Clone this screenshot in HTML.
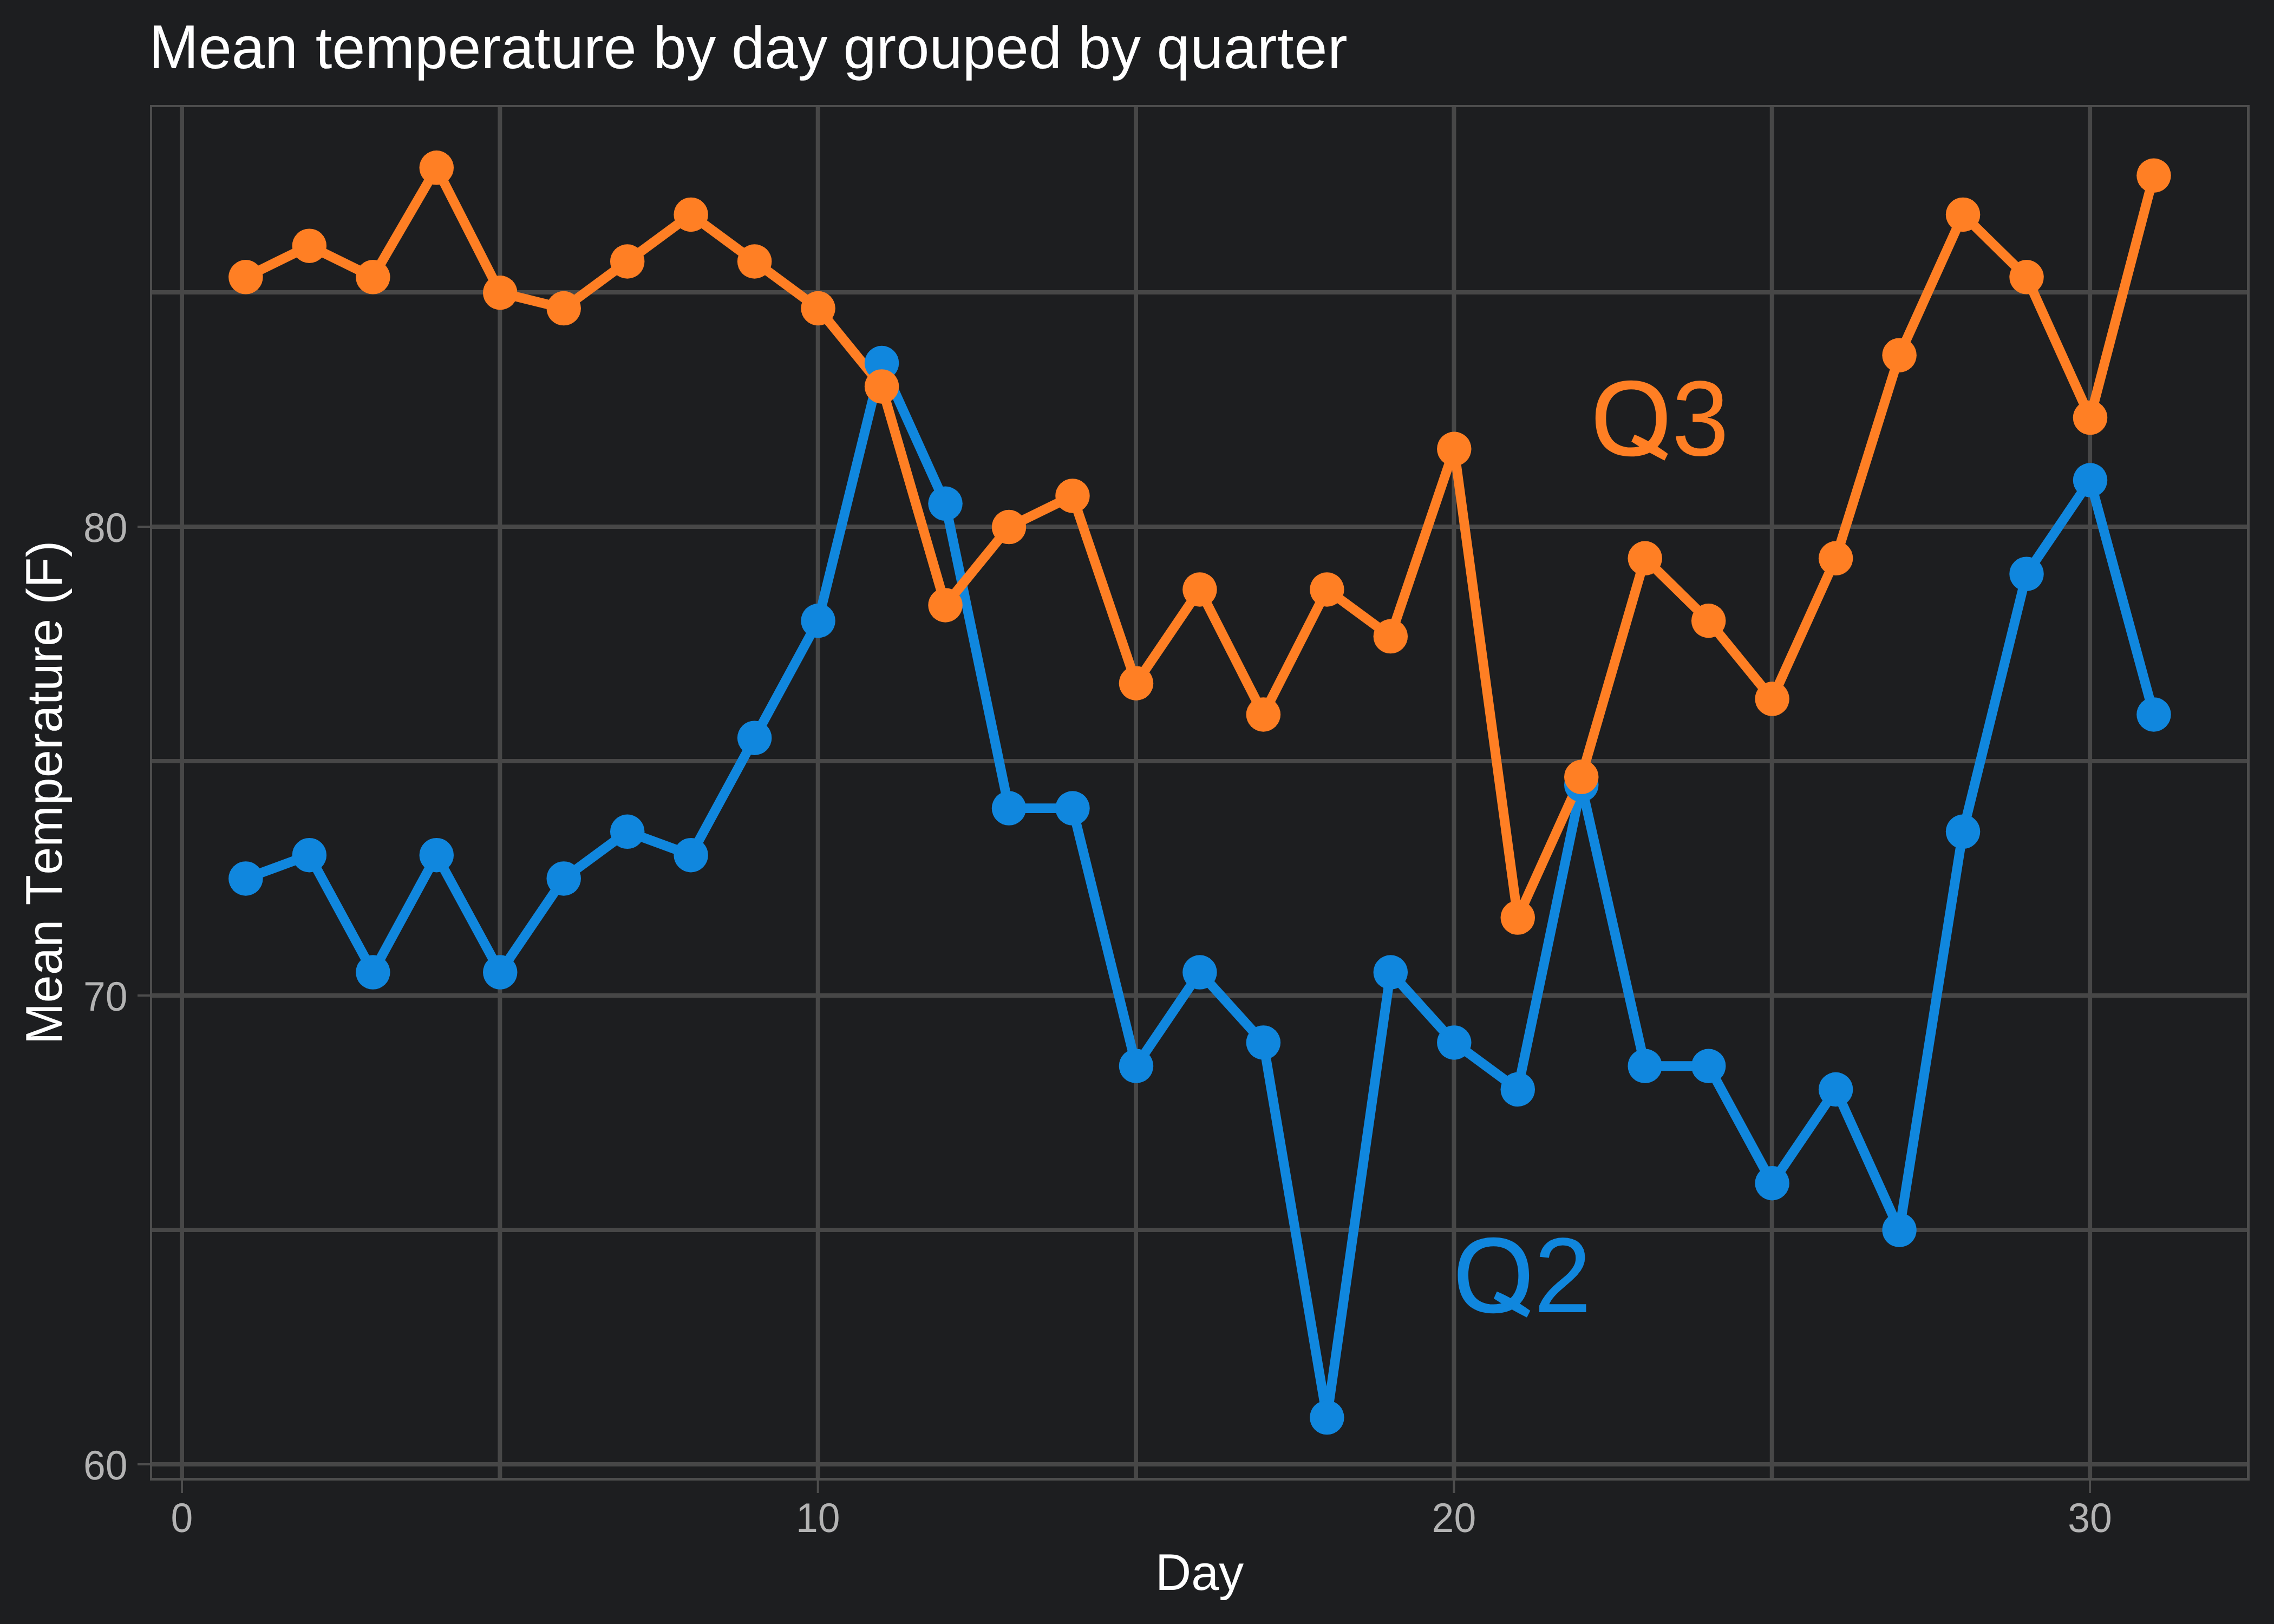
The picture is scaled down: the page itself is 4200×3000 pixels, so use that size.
<!DOCTYPE html>
<html><head><meta charset="utf-8"><title>Mean temperature by day grouped by quarter</title>
<style>
html,body{margin:0;padding:0;background:#1d1e20;}
body{width:4200px;height:3000px;overflow:hidden;}
svg{display:block;}
text{font-family:"Liberation Sans",sans-serif;font-kerning:none;text-rendering:geometricPrecision;}
</style></head><body>
<svg width="4200" height="3000" viewBox="0 0 4200 3000">
<rect x="0" y="0" width="4200" height="3000" fill="#1d1e20"/>
<defs><clipPath id="pc"><rect x="277" y="194" width="3878" height="2541"/></clipPath></defs>
<g clip-path="url(#pc)">

<line x1="277" x2="4155" y1="2705.00" y2="2705.00" stroke="#474747" stroke-width="8"/>
<line x1="277" x2="4155" y1="2272.00" y2="2272.00" stroke="#474747" stroke-width="8"/>
<line x1="277" x2="4155" y1="1839.00" y2="1839.00" stroke="#474747" stroke-width="8"/>
<line x1="277" x2="4155" y1="1406.00" y2="1406.00" stroke="#474747" stroke-width="8"/>
<line x1="277" x2="4155" y1="973.00" y2="973.00" stroke="#474747" stroke-width="8"/>
<line x1="277" x2="4155" y1="540.00" y2="540.00" stroke="#474747" stroke-width="8"/>
<line y1="194" y2="2735" x1="336.00" x2="336.00" stroke="#474747" stroke-width="8"/>
<line y1="194" y2="2735" x1="923.35" x2="923.35" stroke="#474747" stroke-width="8"/>
<line y1="194" y2="2735" x1="1510.70" x2="1510.70" stroke="#474747" stroke-width="8"/>
<line y1="194" y2="2735" x1="2098.05" x2="2098.05" stroke="#474747" stroke-width="8"/>
<line y1="194" y2="2735" x1="2685.40" x2="2685.40" stroke="#474747" stroke-width="8"/>
<line y1="194" y2="2735" x1="3272.75" x2="3272.75" stroke="#474747" stroke-width="8"/>
<line y1="194" y2="2735" x1="3860.10" x2="3860.10" stroke="#474747" stroke-width="8"/>
<path d="M453.87,1622.93 L571.34,1579.64 L688.81,1796.08 L806.28,1579.64 L923.75,1796.08 L1041.22,1622.93 L1158.69,1536.35 L1276.16,1579.64 L1393.63,1363.20 L1511.10,1146.76 L1628.57,670.59 L1746.04,930.32 L1863.51,1493.07 L1980.98,1493.07 L2098.45,1969.23 L2215.92,1796.08 L2333.39,1925.95 L2450.86,2618.55 L2568.33,1796.08 L2685.80,1925.95 L2803.27,2012.52 L2920.74,1449.78 L3038.21,1969.23 L3155.68,1969.23 L3273.15,2185.67 L3390.62,2012.52 L3508.09,2272.25 L3625.56,1536.35 L3743.03,1060.19 L3860.50,887.03 L3977.97,1319.91" fill="none" stroke="#1087de" stroke-width="17.8" stroke-linejoin="round" stroke-linecap="butt"/>
<path d="M453.87,511.87 L571.34,454.15 L688.81,511.87 L806.28,309.86 L923.75,540.73 L1041.22,569.59 L1158.69,483.01 L1276.16,396.44 L1393.63,483.01 L1511.10,569.59 L1628.57,713.88 L1746.04,1117.90 L1863.51,973.61 L1980.98,915.89 L2098.45,1262.20 L2215.92,1089.04 L2333.39,1319.91 L2450.86,1089.04 L2568.33,1175.62 L2685.80,829.32 L2803.27,1695.08 L2920.74,1435.35 L3038.21,1031.33 L3155.68,1146.76 L3273.15,1291.06 L3390.62,1031.33 L3508.09,656.16 L3625.56,396.44 L3743.03,511.87 L3860.50,771.60 L3977.97,324.29" fill="none" stroke="#ff7f24" stroke-width="17.8" stroke-linejoin="round" stroke-linecap="butt"/>
<circle cx="453.87" cy="1622.93" r="31.75" fill="#1087de"/>
<circle cx="571.34" cy="1579.64" r="31.75" fill="#1087de"/>
<circle cx="688.81" cy="1796.08" r="31.75" fill="#1087de"/>
<circle cx="806.28" cy="1579.64" r="31.75" fill="#1087de"/>
<circle cx="923.75" cy="1796.08" r="31.75" fill="#1087de"/>
<circle cx="1041.22" cy="1622.93" r="31.75" fill="#1087de"/>
<circle cx="1158.69" cy="1536.35" r="31.75" fill="#1087de"/>
<circle cx="1276.16" cy="1579.64" r="31.75" fill="#1087de"/>
<circle cx="1393.63" cy="1363.20" r="31.75" fill="#1087de"/>
<circle cx="1511.10" cy="1146.76" r="31.75" fill="#1087de"/>
<circle cx="1628.57" cy="670.59" r="31.75" fill="#1087de"/>
<circle cx="1746.04" cy="930.32" r="31.75" fill="#1087de"/>
<circle cx="1863.51" cy="1493.07" r="31.75" fill="#1087de"/>
<circle cx="1980.98" cy="1493.07" r="31.75" fill="#1087de"/>
<circle cx="2098.45" cy="1969.23" r="31.75" fill="#1087de"/>
<circle cx="2215.92" cy="1796.08" r="31.75" fill="#1087de"/>
<circle cx="2333.39" cy="1925.95" r="31.75" fill="#1087de"/>
<circle cx="2450.86" cy="2618.55" r="31.75" fill="#1087de"/>
<circle cx="2568.33" cy="1796.08" r="31.75" fill="#1087de"/>
<circle cx="2685.80" cy="1925.95" r="31.75" fill="#1087de"/>
<circle cx="2803.27" cy="2012.52" r="31.75" fill="#1087de"/>
<circle cx="2920.74" cy="1449.78" r="31.75" fill="#1087de"/>
<circle cx="3038.21" cy="1969.23" r="31.75" fill="#1087de"/>
<circle cx="3155.68" cy="1969.23" r="31.75" fill="#1087de"/>
<circle cx="3273.15" cy="2185.67" r="31.75" fill="#1087de"/>
<circle cx="3390.62" cy="2012.52" r="31.75" fill="#1087de"/>
<circle cx="3508.09" cy="2272.25" r="31.75" fill="#1087de"/>
<circle cx="3625.56" cy="1536.35" r="31.75" fill="#1087de"/>
<circle cx="3743.03" cy="1060.19" r="31.75" fill="#1087de"/>
<circle cx="3860.50" cy="887.03" r="31.75" fill="#1087de"/>
<circle cx="3977.97" cy="1319.91" r="31.75" fill="#1087de"/>
<circle cx="453.87" cy="511.87" r="31.75" fill="#ff7f24"/>
<circle cx="571.34" cy="454.15" r="31.75" fill="#ff7f24"/>
<circle cx="688.81" cy="511.87" r="31.75" fill="#ff7f24"/>
<circle cx="806.28" cy="309.86" r="31.75" fill="#ff7f24"/>
<circle cx="923.75" cy="540.73" r="31.75" fill="#ff7f24"/>
<circle cx="1041.22" cy="569.59" r="31.75" fill="#ff7f24"/>
<circle cx="1158.69" cy="483.01" r="31.75" fill="#ff7f24"/>
<circle cx="1276.16" cy="396.44" r="31.75" fill="#ff7f24"/>
<circle cx="1393.63" cy="483.01" r="31.75" fill="#ff7f24"/>
<circle cx="1511.10" cy="569.59" r="31.75" fill="#ff7f24"/>
<circle cx="1628.57" cy="713.88" r="31.75" fill="#ff7f24"/>
<circle cx="1746.04" cy="1117.90" r="31.75" fill="#ff7f24"/>
<circle cx="1863.51" cy="973.61" r="31.75" fill="#ff7f24"/>
<circle cx="1980.98" cy="915.89" r="31.75" fill="#ff7f24"/>
<circle cx="2098.45" cy="1262.20" r="31.75" fill="#ff7f24"/>
<circle cx="2215.92" cy="1089.04" r="31.75" fill="#ff7f24"/>
<circle cx="2333.39" cy="1319.91" r="31.75" fill="#ff7f24"/>
<circle cx="2450.86" cy="1089.04" r="31.75" fill="#ff7f24"/>
<circle cx="2568.33" cy="1175.62" r="31.75" fill="#ff7f24"/>
<circle cx="2685.80" cy="829.32" r="31.75" fill="#ff7f24"/>
<circle cx="2803.27" cy="1695.08" r="31.75" fill="#ff7f24"/>
<circle cx="2920.74" cy="1435.35" r="31.75" fill="#ff7f24"/>
<circle cx="3038.21" cy="1031.33" r="31.75" fill="#ff7f24"/>
<circle cx="3155.68" cy="1146.76" r="31.75" fill="#ff7f24"/>
<circle cx="3273.15" cy="1291.06" r="31.75" fill="#ff7f24"/>
<circle cx="3390.62" cy="1031.33" r="31.75" fill="#ff7f24"/>
<circle cx="3508.09" cy="656.16" r="31.75" fill="#ff7f24"/>
<circle cx="3625.56" cy="396.44" r="31.75" fill="#ff7f24"/>
<circle cx="3743.03" cy="511.87" r="31.75" fill="#ff7f24"/>
<circle cx="3860.50" cy="771.60" r="31.75" fill="#ff7f24"/>
<circle cx="3977.97" cy="324.29" r="31.75" fill="#ff7f24"/>
<g transform="translate(2938.6,841) scale(1.0)" fill="#ff7f24"><path fill-rule="evenodd" d="M139.80,-68.00 C139.80,-113.63 116.77,-138.20 74.00,-138.20 C31.23,-138.20 8.20,-113.63 8.20,-68.00 C8.20,-22.37 31.23,2.20 74.00,2.20 C116.77,2.20 139.80,-22.37 139.80,-68.00 Z M120.10,-68.10 C120.10,-102.40 103.47,-121.70 73.90,-121.70 C44.33,-121.70 27.70,-102.40 27.70,-68.10 C27.70,-33.80 44.33,-14.50 73.90,-14.50 C103.47,-14.50 120.10,-33.80 120.10,-68.10 Z "/><path d="M80.4,-38.3 Q108,-27 142,-2.8 L135.8,9.7 Q104,-6 74.6,-25.3 Z"/></g><text transform="translate(3087.80,841) scale(1,1.04)" x="0" y="0" font-size="189.7" fill="#ff7f24">3</text>
<g transform="translate(2684.3,2424) scale(1.0)" fill="#1087de"><path fill-rule="evenodd" d="M139.80,-68.00 C139.80,-113.63 116.77,-138.20 74.00,-138.20 C31.23,-138.20 8.20,-113.63 8.20,-68.00 C8.20,-22.37 31.23,2.20 74.00,2.20 C116.77,2.20 139.80,-22.37 139.80,-68.00 Z M120.10,-68.10 C120.10,-102.40 103.47,-121.70 73.90,-121.70 C44.33,-121.70 27.70,-102.40 27.70,-68.10 C27.70,-33.80 44.33,-14.50 73.90,-14.50 C103.47,-14.50 120.10,-33.80 120.10,-68.10 Z "/><path d="M80.4,-38.3 Q108,-27 142,-2.8 L135.8,9.7 Q104,-6 74.6,-25.3 Z"/></g><text transform="translate(2833.50,2424) scale(1,1.04)" x="0" y="0" font-size="189.7" fill="#1087de">2</text>
<path fill="#4d4d4d" fill-rule="evenodd" d="M277,194 H4155 V2735 H277 Z M281,198 H4150 V2730 H281 Z"/>
</g>
<line x1="254" x2="277" y1="2705.00" y2="2705.00" stroke="#4d4d4d" stroke-width="4"/>
<text transform="translate(235.5,2732.80) scale(1,1.04)" font-size="73.33" fill="#b3b3b3" text-anchor="end">60</text>
<line x1="254" x2="277" y1="1839.00" y2="1839.00" stroke="#4d4d4d" stroke-width="4"/>
<text transform="translate(235.5,1866.80) scale(1,1.04)" font-size="73.33" fill="#b3b3b3" text-anchor="end">70</text>
<line x1="254" x2="277" y1="973.00" y2="973.00" stroke="#4d4d4d" stroke-width="4"/>
<text transform="translate(235.5,1000.80) scale(1,1.04)" font-size="73.33" fill="#b3b3b3" text-anchor="end">80</text>
<line y1="2735" y2="2758" x1="336.00" x2="336.00" stroke="#4d4d4d" stroke-width="4"/>
<text transform="translate(336.00,2830.3) scale(1,1.04)" font-size="73.33" fill="#b3b3b3" text-anchor="middle">0</text>
<line y1="2735" y2="2758" x1="1510.70" x2="1510.70" stroke="#4d4d4d" stroke-width="4"/>
<text transform="translate(1510.70,2830.3) scale(1,1.04)" font-size="73.33" fill="#b3b3b3" text-anchor="middle">10</text>
<line y1="2735" y2="2758" x1="2685.40" x2="2685.40" stroke="#4d4d4d" stroke-width="4"/>
<text transform="translate(2685.40,2830.3) scale(1,1.04)" font-size="73.33" fill="#b3b3b3" text-anchor="middle">20</text>
<line y1="2735" y2="2758" x1="3860.10" x2="3860.10" stroke="#4d4d4d" stroke-width="4"/>
<text transform="translate(3860.10,2830.3) scale(1,1.04)" font-size="73.33" fill="#b3b3b3" text-anchor="middle">30</text>
<text transform="translate(275.00,126.4) scale(1,1.04)" font-size="110" fill="#ffffff">M</text><text x="366.63" y="126.4" font-size="110" fill="#ffffff">ean</text>
<text x="582.70" y="126.4" font-size="110" fill="#ffffff">temperature</text>
<text x="1206.40" y="126.4" font-size="110" fill="#ffffff">by</text>
<text x="1351.10" y="126.4" font-size="110" fill="#ffffff">day</text>
<text x="1557.40" y="126.4" font-size="110" fill="#ffffff">grouped</text>
<text x="1991.10" y="126.4" font-size="110" fill="#ffffff">by</text>
<text x="2136.50" y="126.4" font-size="110" fill="#ffffff" letter-spacing="0.6">quarter</text>
<text transform="translate(2134.09,2936.5) scale(1,1.04)" font-size="91.67" fill="#ffffff">D</text><text x="2200.29" y="2936.5" font-size="91.67" fill="#ffffff">ay</text>
<g transform="translate(113.7,1464) rotate(-90)"><text transform="translate(-465.31,0) scale(1,1.04)" font-size="91.67" fill="#ffffff" letter-spacing="0.45">M</text><text x="-388.50" y="0" font-size="91.67" fill="#ffffff" letter-spacing="0.45">ean </text><text transform="translate(-208.28,0) scale(1,1.04)" font-size="91.67" fill="#ffffff" letter-spacing="0.45">T</text><text x="-151.84" y="0" font-size="91.67" fill="#ffffff" letter-spacing="0.45">emperature (</text><text transform="translate(378.34,0) scale(1,1.04)" font-size="91.67" fill="#ffffff" letter-spacing="0.45">F</text><text x="434.78" y="0" font-size="91.67" fill="#ffffff" letter-spacing="0.45">)</text></g>
</svg></body></html>
